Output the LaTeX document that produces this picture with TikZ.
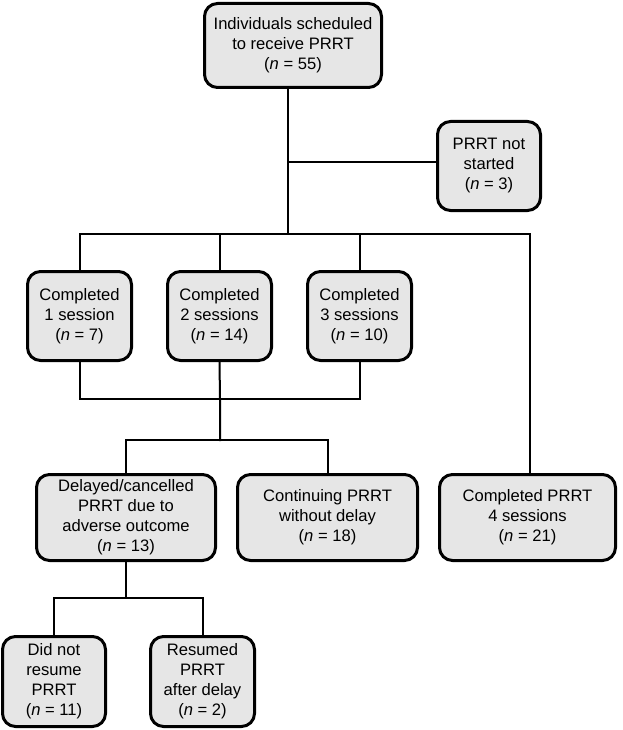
\documentclass[tikz,border=0pt]{standalone}
\usepackage{fontspec}
\setmainfont{Liberation Sans}
\usetikzlibrary{backgrounds}
\definecolor{boxfill}{HTML}{E6E6E6}
\tikzset{
  box/.style={draw=black, line width=3pt, fill=boxfill, rounded corners=13pt,
    align=center, inner sep=0pt, font=\fontsize{16.6}{20}\selectfont},
  conn/.style={draw=black, line width=2pt, line cap=rect, line join=miter},
}
\begin{document}
\begin{tikzpicture}[x=1pt, y=-1pt]
\useasboundingbox (0,0) rectangle (622,730);
% nodes
\node[box, minimum width=177pt, minimum height=84pt] (top) at (293,45.5)
  {Individuals scheduled\\to receive PRRT\\(\textit{n} = 55)};
\node[box, minimum width=103pt, minimum height=89pt] (notstarted) at (489,166)
  {PRRT not\\started\\(\textit{n} = 3)};
\node[box, minimum width=104pt, minimum height=89pt] (c1) at (79.5,316)
  {Completed\\1 session\\(\textit{n} = 7)};
\node[box, minimum width=104pt, minimum height=89pt] (c2) at (219.5,316)
  {Completed\\2 sessions\\(\textit{n} = 14)};
\node[box, minimum width=104pt, minimum height=89pt] (c3) at (359.5,316)
  {Completed\\3 sessions\\(\textit{n} = 10)};
\node[box, minimum width=179pt, minimum height=86pt] (delayed) at (126,517.5)
  {Delayed/cancelled\\PRRT due to\\adverse outcome\\(\textit{n} = 13)};
\node[box, minimum width=180pt, minimum height=86pt] (cont) at (327.5,517.5)
  {Continuing PRRT\\without delay\\(\textit{n} = 18)};
\node[box, minimum width=176pt, minimum height=86pt] (done) at (527.5,517.5)
  {Completed PRRT\\4 sessions\\(\textit{n} = 21)};
\node[box, minimum width=103pt, minimum height=90pt] (didnot) at (54,681.5)
  {Did not\\resume\\PRRT\\(\textit{n} = 11)};
\node[box, minimum width=104pt, minimum height=90pt] (resumed) at (202.5,681.5)
  {Resumed\\PRRT\\after delay\\(\textit{n} = 2)};
% junction points
\coordinate (tb) at (288,234);
\coordinate (ns) at (288,162);
\coordinate (busR) at (530,234);
\coordinate (bb) at (220,399);
\coordinate (mb) at (220,440);
\coordinate (lb) at (127,598);
\begin{pgfonlayer}{background}
\draw[conn] (top.south -| tb) -- (tb);
\draw[conn] (ns) -- (ns -| notstarted.west);
\draw[conn] (c1.north) -- (c1.north |- tb) -- (busR) -- (busR |- done.north);
\draw[conn] (c2.north) -- (c2.north |- tb);
\draw[conn] (c3.north) -- (c3.north |- tb);
\draw[conn] (c1.south) -- (c1.south |- bb) -- (c3.south |- bb) -- (c3.south);
\draw[conn] (c2.south) -- (bb) -- (mb);
\draw[conn] (delayed.north) -- (delayed.north |- mb) -- (cont.north |- mb) -- (cont.north);
\draw[conn] (delayed.south) -- (delayed.south |- lb);
\draw[conn] (didnot.north) -- (didnot.north |- lb) -- (resumed.north |- lb) -- (resumed.north);
\end{pgfonlayer}
\end{tikzpicture}
\end{document}
